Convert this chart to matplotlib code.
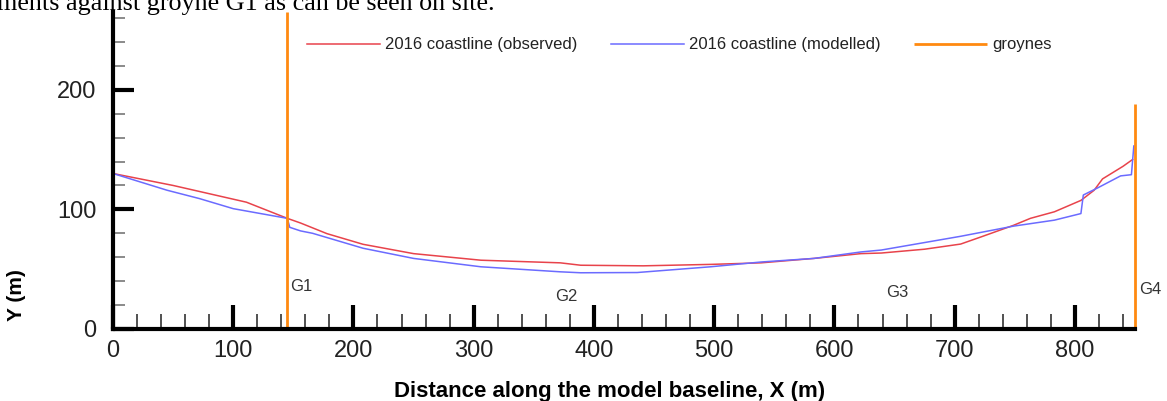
import matplotlib.pyplot as plt
from matplotlib.ticker import MultipleLocator

plt.rcParams['font.family'] = ['Liberation Sans', 'DejaVu Sans']

# observed 2016 coastline (red)
obs_x = [0, 50, 111, 145, 156, 178, 208, 250, 306, 372, 389, 441, 497, 539,
         583, 622, 639, 675, 705, 722, 749, 763, 783, 805, 816, 823, 840, 848]
obs_y = [130, 120, 106, 92.5, 88.6, 79.7, 70.8, 63, 57.5, 55.3, 53.3, 52.8, 54, 55.3,
         59, 63, 63.5, 66.7, 71, 77, 86.7, 92.5, 98, 107.5, 116, 125.5, 136, 141.7]

# modelled 2016 coastline (blue)
mod_x = [0, 45, 72, 100, 145, 147, 156, 166, 208, 250, 306, 372, 389, 436, 497,
         539, 583, 622, 639, 705, 749, 783, 805, 807, 819, 838, 847, 849]
mod_y = [130, 116, 109, 100.6, 92.5, 85, 82, 80, 67.5, 59, 52, 47.8, 47, 47.2, 52,
         56, 59, 64.4, 66, 77.5, 86, 91, 96.5, 112, 118, 128, 129, 153]

# groynes
groyne_x = [145, 850]
groyne_top = [265, 188]
groyne_names = ['G1', 'G2', 'G3', 'G4']
name_x = [147, 368, 643, 853]
name_y = [29, 21, 24, 27]

fig = plt.figure(figsize=(11.67, 4.01), dpi=100)
ax = fig.add_axes([0.0968, 0.1796, 0.8758, 0.7904])

ax.plot(obs_x, obs_y, color='#e8434b', lw=1.1, label='2016 coastline (observed)')
ax.plot(mod_x, mod_y, color='#6b6bff', lw=1.1, label='2016 coastline (modelled)')
ax.vlines(groyne_x, 0, groyne_top, color='#ff8a10', lw=2, label='groynes', clip_on=False)
for n, gx, gy in zip(groyne_names, name_x, name_y):
    ax.text(gx, gy, n, fontsize=12, color='#333333', va='bottom', ha='left')

ax.set_xlim(0, 850)
ax.set_ylim(0, 265)
ax.spines['top'].set_visible(False)
ax.spines['right'].set_visible(False)
ax.spines['left'].set_linewidth(3)
ax.spines['bottom'].set_linewidth(3)
ax.xaxis.set_major_locator(MultipleLocator(100))
ax.xaxis.set_minor_locator(MultipleLocator(20))
ax.yaxis.set_major_locator(MultipleLocator(100))
ax.yaxis.set_minor_locator(MultipleLocator(20))
ax.tick_params(which='major', direction='in', width=3, labelsize=17,
               color='black', labelcolor='#222222')
ax.tick_params(axis='x', which='major', length=17, pad=8)
ax.tick_params(axis='y', which='major', length=15, pad=12)
ax.tick_params(axis='x', which='minor', direction='in', length=10.5, width=1.2, color='#333333')
ax.tick_params(axis='y', which='minor', direction='in', length=8.5, width=1.2, color='#777777')

ax.set_xlabel('Distance along the model baseline, X (m)', fontsize=16, fontweight='bold')
ax.set_ylabel('Y (m)', fontsize=15, fontweight='bold')
ax.xaxis.set_label_coords(0.486, -0.165)
ax.yaxis.set_label_coords(-0.085, 0.107)

ax.legend(loc='center left', bbox_to_anchor=(0.175, 0.896), ncol=3, frameon=False,
          fontsize=12, handlelength=4.4, handletextpad=0.3, columnspacing=2.0,
          labelcolor='#222222')

# caption text from the page, cut off at the top edge
fig.text(-3 / 1167, 1 - 10 / 401, 'ments against groyne G1 as can be seen on site.',
         family='Liberation Serif', fontsize=18.8, va='baseline', ha='left')

fig.savefig('out.png', dpi=100)
